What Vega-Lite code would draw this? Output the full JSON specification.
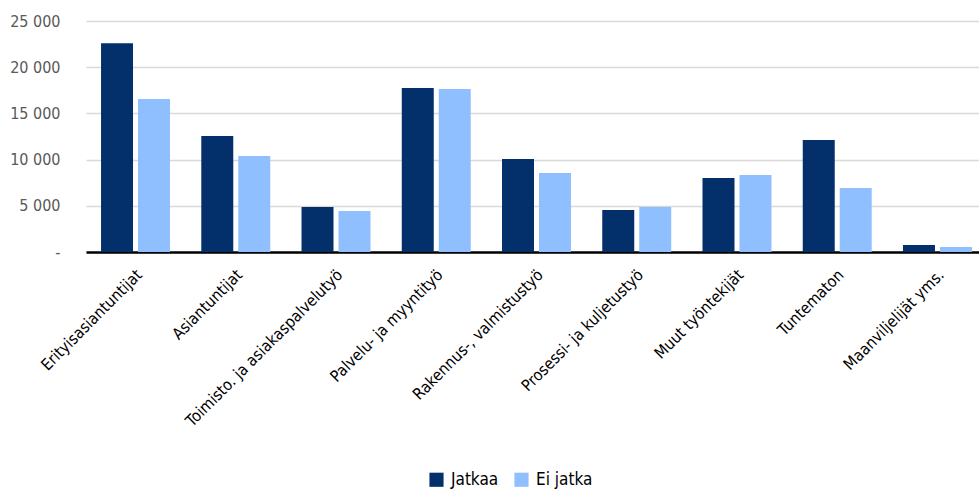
{
  "$schema": "https://vega.github.io/schema/vega-lite/v6.json",
  "width": 893,
  "height": 231,
  "autosize": {"type": "none"},
  "padding": {"left": 86, "top": 21, "right": 0, "bottom": 240},
  "background": "white",
  "config": {
    "view": {"stroke": null},
    "font": "DejaVu Sans Condensed"
  },
  "data": {
    "values": [
      {"ammatti": "Erityisasiantuntijat", "ryhma": "Jatkaa", "arvo": 22600},
      {"ammatti": "Erityisasiantuntijat", "ryhma": "Ei jatka", "arvo": 16550},
      {"ammatti": "Asiantuntijat", "ryhma": "Jatkaa", "arvo": 12550},
      {"ammatti": "Asiantuntijat", "ryhma": "Ei jatka", "arvo": 10400},
      {"ammatti": "Toimisto. ja asiakaspalvelutyö", "ryhma": "Jatkaa", "arvo": 4870},
      {"ammatti": "Toimisto. ja asiakaspalvelutyö", "ryhma": "Ei jatka", "arvo": 4440},
      {"ammatti": "Palvelu- ja myyntityö", "ryhma": "Jatkaa", "arvo": 17750},
      {"ammatti": "Palvelu- ja myyntityö", "ryhma": "Ei jatka", "arvo": 17640},
      {"ammatti": "Rakennus-, valmistustyö", "ryhma": "Jatkaa", "arvo": 10060},
      {"ammatti": "Rakennus-, valmistustyö", "ryhma": "Ei jatka", "arvo": 8550},
      {"ammatti": "Prosessi- ja kuljetustyö", "ryhma": "Jatkaa", "arvo": 4550},
      {"ammatti": "Prosessi- ja kuljetustyö", "ryhma": "Ei jatka", "arvo": 4870},
      {"ammatti": "Muut työntekijät", "ryhma": "Jatkaa", "arvo": 8010},
      {"ammatti": "Muut työntekijät", "ryhma": "Ei jatka", "arvo": 8330},
      {"ammatti": "Tuntematon", "ryhma": "Jatkaa", "arvo": 12120},
      {"ammatti": "Tuntematon", "ryhma": "Ei jatka", "arvo": 6930},
      {"ammatti": "Maanviljelijät yms.", "ryhma": "Jatkaa", "arvo": 760},
      {"ammatti": "Maanviljelijät yms.", "ryhma": "Ei jatka", "arvo": 540}
    ]
  },
  "mark": {"type": "bar"},
  "encoding": {
    "x": {
      "field": "ammatti",
      "type": "nominal",
      "sort": null,
      "title": null,
      "scale": {"paddingInner": 0.312, "paddingOuter": 0.15, "range": [0, 901]},
      "axis": {
        "labelAngle": -45,
        "labelAlign": "right",
        "labelBaseline": "middle",
        "labelFontSize": 16,
        "labelColor": "#000000",
        "labelPadding": 20,
        "labelOffset": 4,
        "ticks": false,
        "domainColor": "#000000",
        "domainWidth": 2.5,
        "labelLimit": 400
      }
    },
    "xOffset": {
      "field": "ryhma",
      "type": "nominal",
      "sort": ["Jatkaa", "Ei jatka"],
      "scale": {"paddingInner": 0.135}
    },
    "y": {
      "field": "arvo",
      "type": "quantitative",
      "title": null,
      "scale": {"domain": [0, 25000]},
      "axis": {
        "values": [0, 5000, 10000, 15000, 20000, 25000],
        "labelExpr": "datum.value == 0 ? '-' : replace(format(datum.value, ','), ',', ' ')",
        "labelFontSize": 16,
        "labelColor": "#595959",
        "labelPadding": 26,
        "ticks": false,
        "domain": false,
        "grid": true,
        "gridColor": "#d9d9d9",
        "gridWidth": 1.5
      }
    },
    "color": {
      "field": "ryhma",
      "type": "nominal",
      "sort": ["Jatkaa", "Ei jatka"],
      "scale": {"domain": ["Jatkaa", "Ei jatka"], "range": ["#03306B", "#8FBFFF"]},
      "legend": {
        "title": null,
        "orient": "none",
        "direction": "horizontal",
        "legendX": 342,
        "legendY": 450,
        "symbolType": "square",
        "symbolSize": 200,
        "symbolStrokeWidth": 0,
        "labelFontSize": 17,
        "labelColor": "#000000",
        "columnPadding": 14,
        "labelOffset": 6
      }
    }
  }
}
